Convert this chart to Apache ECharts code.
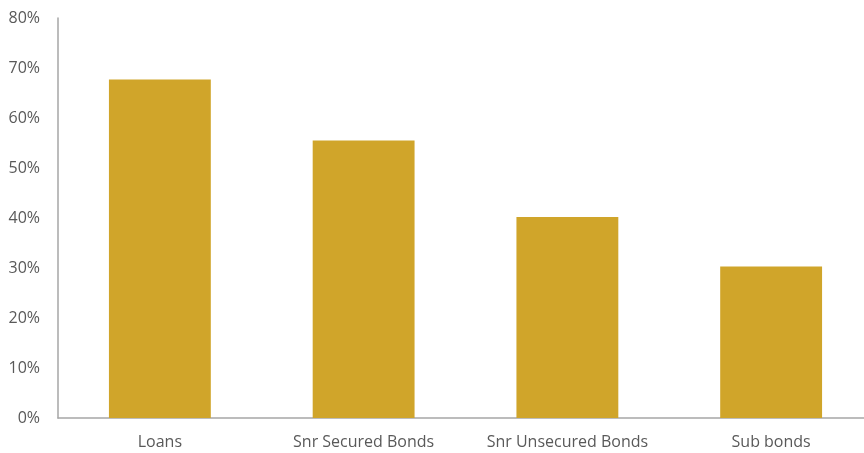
<!DOCTYPE html>
<html>
<head>
<meta charset="utf-8">
<script src="https://cdn.jsdelivr.net/npm/echarts@6/dist/echarts.min.js"></script>
<style>
  html, body { margin: 0; padding: 0; background: #fff; }
  #chart { width: 864px; height: 453px; }
</style>
</head>
<body>
<div id="chart"></div>
<script>
  // recovery rates by debt type
  var categories = ['Loans', 'Snr Secured Bonds', 'Snr Unsecured Bonds', 'Sub bonds']
  var recovery = [67.7, 55.5, 40.2, 30.3]
  var yTicks = { min: 0, max: 80, interval: 10 }

  var chart = echarts.init(document.getElementById('chart'))

  chart.setOption({
    backgroundColor: '#fff',
    animation: false,
    grid: {
      left: 58,
      right: -9,
      top: 18,
      bottom: 35,
      outerBoundsMode: 'none'
    },
    xAxis: {
      type: 'category',
      data: categories,
      axisLine: {
        lineStyle: { color: '#a6a6a6', width: 1.5 }
      },
      axisTick: { show: false },
      axisLabel: {
        interval: 0,
        margin: 16,
        color: '#595959',
        fontSize: 16,
        fontFamily: 'Open Sans'
      }
    },
    yAxis: {
      type: 'value',
      min: yTicks.min,
      max: yTicks.max,
      interval: yTicks.interval,
      axisLine: {
        show: true,
        lineStyle: { color: '#a6a6a6', width: 1.5 }
      },
      axisTick: { show: false },
      splitLine: { show: false },
      axisLabel: {
        margin: 18,
        color: '#595959',
        fontSize: 16,
        fontFamily: 'Open Sans',
        formatter: '{value}%'
      }
    },
    series: [{
      type: 'bar',
      data: recovery,
      barWidth: '50%',
      itemStyle: {
        color: '#d0a52a'
      }
    }]
  })
</script>
</body>
</html>
